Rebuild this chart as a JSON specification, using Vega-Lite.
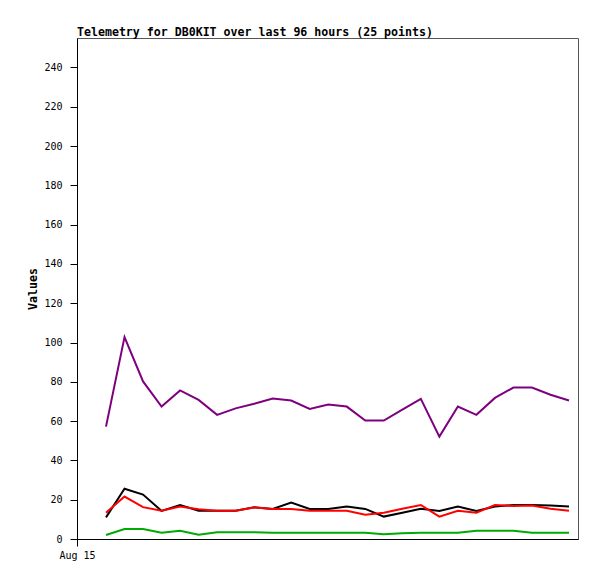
{
  "$schema": "https://vega.github.io/schema/vega-lite/v6.json",
  "autosize": "none",
  "padding": {"left": 77, "top": 38, "right": 19, "bottom": 40},
  "width": 501,
  "height": 501,
  "background": "white",
  "title": {
    "text": "Telemetry for DB0KIT over last 96 hours (25 points)",
    "anchor": "start",
    "frame": "group",
    "offset": -1,
    "font": "DejaVu Sans Mono",
    "fontSize": 11.6,
    "fontWeight": "bold",
    "color": "black"
  },
  "config": {
    "view": {"stroke": "#555555", "strokeWidth": 1},
    "axis": {
      "grid": false,
      "domainColor": "black",
      "tickColor": "black",
      "labelColor": "black",
      "labelFont": "DejaVu Sans Mono",
      "labelFontSize": 10,
      "titleFont": "DejaVu Sans Mono",
      "titleFontSize": 11.6,
      "titleFontWeight": "bold",
      "titleColor": "black",
      "tickSize": 7
    }
  },
  "data": {
    "values": [
      {"i": 0, "purple": 57.2, "red": 13.4, "black": 11.0, "green": 2.0},
      {"i": 1, "purple": 102.8, "red": 21.6, "black": 25.6, "green": 5.1},
      {"i": 2, "purple": 80.2, "red": 16.2, "black": 22.6, "green": 5.1},
      {"i": 3, "purple": 67.4, "red": 14.4, "black": 14.3, "green": 3.2},
      {"i": 4, "purple": 75.6, "red": 16.5, "black": 17.3, "green": 4.2},
      {"i": 5, "purple": 70.8, "red": 15.1, "black": 14.4, "green": 2.2},
      {"i": 6, "purple": 63.2, "red": 14.4, "black": 14.4, "green": 3.4},
      {"i": 7, "purple": 66.5, "red": 14.4, "black": 14.4, "green": 3.4},
      {"i": 8, "purple": 68.8, "red": 16.0, "black": 16.2, "green": 3.4},
      {"i": 9, "purple": 71.5, "red": 15.3, "black": 15.3, "green": 3.2},
      {"i": 10, "purple": 70.5, "red": 15.3, "black": 18.5, "green": 3.2},
      {"i": 11, "purple": 66.2, "red": 14.4, "black": 15.3, "green": 3.2},
      {"i": 12, "purple": 68.4, "red": 14.4, "black": 15.3, "green": 3.2},
      {"i": 13, "purple": 67.4, "red": 14.4, "black": 16.5, "green": 3.2},
      {"i": 14, "purple": 60.3, "red": 12.4, "black": 15.3, "green": 3.2},
      {"i": 15, "purple": 60.3, "red": 13.4, "black": 11.4, "green": 2.4},
      {"i": 16, "purple": 65.8, "red": 15.4, "black": 13.4, "green": 2.9},
      {"i": 17, "purple": 71.3, "red": 17.3, "black": 15.4, "green": 3.2},
      {"i": 18, "purple": 52.1, "red": 11.4, "black": 14.3, "green": 3.2},
      {"i": 19, "purple": 67.4, "red": 14.4, "black": 16.5, "green": 3.2},
      {"i": 20, "purple": 63.2, "red": 13.4, "black": 14.3, "green": 4.2},
      {"i": 21, "purple": 71.8, "red": 17.3, "black": 16.5, "green": 4.2},
      {"i": 22, "purple": 77.1, "red": 16.8, "black": 17.3, "green": 4.2},
      {"i": 23, "purple": 77.1, "red": 17.1, "black": 17.3, "green": 3.2},
      {"i": 24, "purple": 73.4, "red": 15.4, "black": 17.1, "green": 3.2},
      {"i": 25, "purple": 70.5, "red": 14.4, "black": 16.5, "green": 3.2}
    ]
  },
  "encoding": {
    "x": {
      "field": "i",
      "type": "quantitative",
      "scale": {"domain": [-1.566, 25.486], "nice": false, "zero": false},
      "axis": {
        "title": null,
        "values": [-1.566],
        "labelExpr": "'Aug 15'",
        "labelPadding": 4,
        "labelFlush": false
      }
    }
  },
  "layer": [
    {
      "mark": {"type": "line", "color": "#7f007f", "strokeWidth": 2},
      "encoding": {
        "y": {
          "field": "purple",
          "type": "quantitative",
          "scale": {"domain": [0, 255], "nice": false},
          "axis": {
            "title": "Values",
            "values": [0, 20, 40, 60, 80, 100, 120, 140, 160, 180, 200, 220, 240],
            "labelPadding": 8,
            "titlePadding": 5
          }
        }
      }
    },
    {
      "mark": {"type": "line", "color": "#000000", "strokeWidth": 2},
      "encoding": {"y": {"field": "black", "type": "quantitative"}}
    },
    {
      "mark": {"type": "line", "color": "#ff0000", "strokeWidth": 2},
      "encoding": {"y": {"field": "red", "type": "quantitative"}}
    },
    {
      "mark": {"type": "line", "color": "#00aa00", "strokeWidth": 2},
      "encoding": {"y": {"field": "green", "type": "quantitative"}}
    }
  ]
}
